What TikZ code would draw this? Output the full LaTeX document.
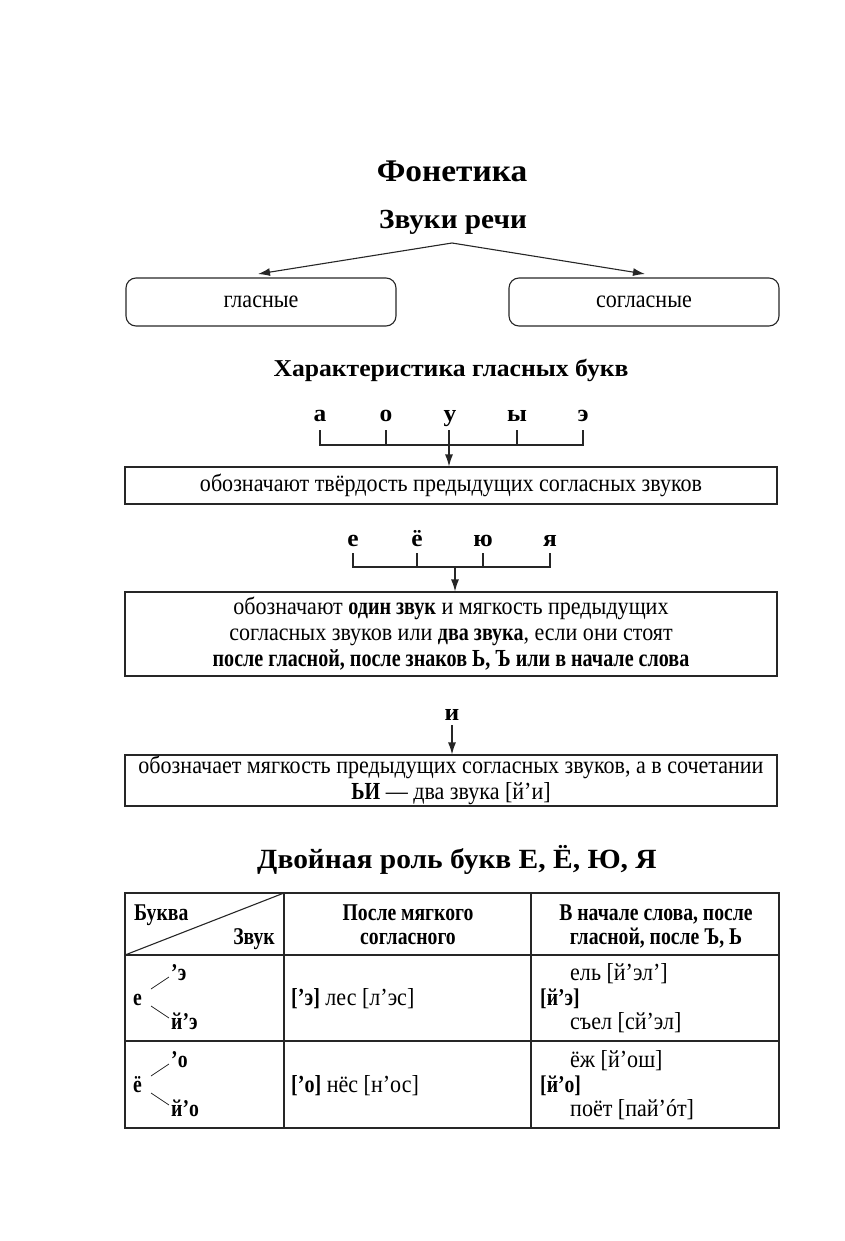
\documentclass[tikz,border=0pt]{standalone}
\usepackage{fontspec}
\setmainfont{Liberation Serif}[FakeStretch=0.9]
\newfontfamily\bfc{Liberation Serif Bold}[FakeStretch=0.82]
\newfontfamily\ttlfont{Liberation Serif Bold}[FakeStretch=1.06]
\newcommand\tbc[1]{{\bfc #1}}
\usetikzlibrary{arrows.meta}
\begin{document}
\begin{tikzpicture}[x=1pt,y=-1pt,
  body/.style={font=\fontsize{24.5}{26}\selectfont, inner sep=0pt},
  bodyb/.style={font=\fontsize{24}{26}\selectfont\bfc, inner sep=0pt},
  vow/.style={font=\fontsize{24}{26}\selectfont\ttlfont, inner sep=0pt},
  ttl/.style={inner sep=0pt, anchor=base},
  ln/.style={draw=black!85, line width=1.1pt},
  rbox/.style={ln, rounded corners=10pt, minimum width=270pt, minimum height=48pt, inner sep=0pt, font=\fontsize{24.5}{26}\selectfont},
  sbox/.style={ln, minimum width=652pt, inner sep=0pt, align=center, font=\fontsize{24.5}{26}\selectfont},
  arr/.style={ln, -{Latex[length=12pt,width=8pt]}},
  tick/.style={ln}
]
\useasboundingbox (0,0) rectangle (845,1241);

% titles
\node[ttl, font=\fontsize{31.5}{34}\selectfont\ttlfont] (fon) at (452,182) {Фонетика};
\node[ttl, font=\fontsize{27.6}{30}\selectfont\ttlfont] (zv) at (453,229) {Звуки речи};

\node[rbox] (gl) at (261,302) {гласные};
\node[rbox] (sg) at (644,302) {согласные};
\coordinate (zvb) at (452,243);
\coordinate (glt) at (258,274);
\coordinate (sgt) at (645,274);
\draw[arr] (zvb) -- (glt);
\draw[arr] (zvb) -- (sgt);

\node[ttl, font=\fontsize{24.2}{26}\selectfont\ttlfont] (har) at (451,376) {Характеристика гласных букв};

% vowels row 1
\node[vow, anchor=base] (va) at (320,421) {а};
\node[vow, anchor=base] (vo) at (386,421) {о};
\node[vow, anchor=base] (vu) at (450,421) {у};
\node[vow, anchor=base] (vy) at (517,421) {ы};
\node[vow, anchor=base] (ve) at (583,421) {э};

\node[sbox, minimum height=37pt] (b1) at (451,485.5) {обозначают твёрдость предыдущих согласных звуков};

\draw[tick] (320,430) -- (320,445) -- (583,445) -- (583,430);
\draw[tick] (386,430) -- (386,445);
\draw[tick] (517,430) -- (517,445);
\coordinate (vut) at (449,430);
\draw[arr] (vut) -- (b1.north -| vut);

% vowels row 2
\node[vow, anchor=base] (we) at (353,546) {е};
\node[vow, anchor=base] (wyo) at (417,546) {ё};
\node[vow, anchor=base] (wyu) at (483,546) {ю};
\node[vow, anchor=base] (wya) at (550,546) {я};

\node[sbox, minimum height=84pt] (b2) at (451,634) {обозначают \tbc{один звук} и мягкость предыдущих\\согласных звуков или \tbc{два звука}, если они стоят\\\tbc{после гласной, после знаков Ь, Ъ или в начале слова}};

\draw[tick] (353,553) -- (353,567) -- (550,567) -- (550,553);
\draw[tick] (417,553) -- (417,567);
\draw[tick] (483,553) -- (483,567);
\coordinate (wm) at (455,567);
\draw[arr] (wm) -- (b2.north -| wm);

% и
\node[vow, anchor=base] (vi) at (452,720) {и};
\node[sbox, minimum height=51pt] (b3) at (451,780.5) {обозначает мягкость предыдущих согласных звуков, а в сочетании\\\tbc{ЬИ} — два звука [й’и]};
\coordinate (vib) at (452,725);
\draw[arr] (vib) -- (b3.north -| vib);

% second title
\node[ttl, font=\fontsize{27.8}{30}\selectfont\ttlfont] (dv) at (457,868) {Двойная роль букв Е, Ё, Ю, Я};

% table
\draw[ln] (125,893) rectangle (779,1128);
\draw[ln] (284,893) -- (284,1128);
\draw[ln] (531,893) -- (531,1128);
\draw[ln] (125,955) -- (779,955);
\draw[ln] (125,1041) -- (779,1041);
\draw[ln] (125,955) -- (284,893);

\node[bodyb, anchor=base west] (bk) at (134,920) {Буква};
\node[bodyb, anchor=base east] (zk) at (275,944) {Звук};
\node[bodyb, anchor=base] (h2a) at (408,920) {После мягкого};
\node[bodyb, anchor=base] (h2b) at (408,944) {согласного};
\node[bodyb, anchor=base] (h3a) at (656,920) {В начале слова, после};
\node[bodyb, anchor=base] (h3b) at (656,944) {гласной, после Ъ, Ь};

% row 1
\node[bodyb, anchor=base west] (r1l) at (133,1005) {е};
\node[bodyb, anchor=base west] (r1a) at (171,980) {’э};
\node[bodyb, anchor=base west] (r1b) at (171,1029) {й’э};
\draw[ln, line width=0.8pt] (151,989) -- (169,977);
\draw[ln, line width=0.8pt] (151,1006) -- (169,1018);
\node[body, anchor=base west] (r1c) at (291,1005) {\tbc{[’э]} лес [л’эс]};
\node[bodyb, anchor=base west] (r1d) at (540,1005) {[й’э]};
\node[body, anchor=base west] (r1e) at (570,980) {ель [й’эл’]};
\node[body, anchor=base west] (r1f) at (570,1029) {съел [сй’эл]};

% row 2
\node[bodyb, anchor=base west] (r2l) at (133,1092) {ё};
\node[bodyb, anchor=base west] (r2a) at (171,1067) {’о};
\node[bodyb, anchor=base west] (r2b) at (171,1116) {й’о};
\draw[ln, line width=0.8pt] (151,1076) -- (169,1064);
\draw[ln, line width=0.8pt] (151,1093) -- (169,1105);
\node[body, anchor=base west] (r2c) at (291,1092) {\tbc{[’о]} нёс [н’ос]};
\node[bodyb, anchor=base west] (r2d) at (540,1092) {[й’о]};
\node[body, anchor=base west] (r2e) at (570,1067) {ёж [й’ош]};
\node[body, anchor=base west] (r2f) at (570,1116) {поёт [пай’óт]};
\end{tikzpicture}
\end{document}
